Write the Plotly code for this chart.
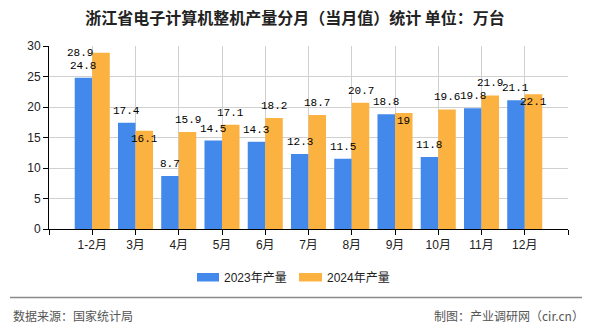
import plotly.graph_objects as go

categories = ["1-2月", "3月", "4月", "5月", "6月", "7月", "8月", "9月", "10月", "11月", "12月"]
values_2023 = [24.8, 17.4, 8.7, 14.5, 14.3, 12.3, 11.5, 18.8, 11.8, 19.8, 21.1]
values_2024 = [28.9, 16.1, 15.9, 17.1, 18.2, 18.7, 20.7, 19, 19.6, 21.9, 22.1]
series_names = ["2023年产量", "2024年产量"]
y_ticks = [0, 5, 10, 15, 20, 25, 30]

# label placement styles (pixel shifts, mimicking overlap avoidance in the original)
label_dx_2024 = [-21, 0, 0, 0, 0, 0, 0, 0, 0, 0, 0]
label_dy_2024 = [0, -8, 12, 12, 12, 12, 12, -8, 12, 12, -8]

BLUE = "#4389EC"
ORANGE = "#FCB241"
W, H = 590, 330
L, R, T, B = 49, 568, 46, 229

xs = list(range(1, len(categories) + 1))

fig = go.Figure()
fig.add_trace(go.Bar(x=xs, y=values_2023, name=series_names[0], marker=dict(color=BLUE, line=dict(width=0))))
fig.add_trace(go.Bar(x=xs, y=values_2024, name=series_names[1], marker=dict(color=ORANGE, line=dict(width=0))))

label_font = dict(family="Liberation Mono, DejaVu Sans Mono, monospace", size=11, color="#000")
half = (R - L) / (len(categories) + 1) * 0.81 / 4
for i, (a, b) in enumerate(zip(values_2023, values_2024)):
    fig.add_annotation(x=xs[i], y=a, text=f"{a:g}", showarrow=False, xshift=-half, yshift=12,
                       yanchor="middle", xanchor="center", font=label_font)
for i, b in enumerate(values_2024):
    fig.add_annotation(x=xs[i], y=b, text=f"{b:g}", showarrow=False, xshift=half + label_dx_2024[i],
                       yshift=label_dy_2024[i], yanchor="middle", xanchor="center", font=label_font)

def px_x(p):
    return (p - L) / (R - L)

def px_y(p):
    return (B - p) / (B - T)

# manual legend
leg_font = dict(family="Liberation Sans, Noto Sans CJK SC, sans-serif", size=12, color="#222")
for (x0, x1, col, name) in [(197, 219, BLUE, series_names[0]), (299, 322, ORANGE, series_names[1])]:
    fig.add_shape(type="rect", xref="paper", yref="paper", x0=px_x(x0), x1=px_x(x1),
                  y0=px_y(281.5), y1=px_y(273), fillcolor=col, line=dict(width=0))
    fig.add_annotation(xref="paper", yref="paper", x=px_x(x1 + 3), y=px_y(277.5), text=name,
                       showarrow=False, xanchor="left", yanchor="middle", font=leg_font)

# footer
fig.add_shape(type="line", xref="paper", yref="paper", x0=px_x(10), x1=px_x(582),
              y0=px_y(297.5), y1=px_y(297.5), line=dict(color="#8a8a8a", width=1.5))
foot_font = dict(family="Noto Sans CJK SC, sans-serif", size=12, color="#555")
fig.add_annotation(xref="paper", yref="paper", x=px_x(11), y=px_y(315), text="数据来源：国家统计局",
                   showarrow=False, xanchor="left", yanchor="middle", font=foot_font)
fig.add_annotation(xref="paper", yref="paper", x=px_x(586), y=px_y(315), text="制图：产业调研网（cir.cn）",
                   showarrow=False, xanchor="right", yanchor="middle", font=foot_font)

fig.update_layout(
    width=W, height=H,
    margin=dict(l=L, r=W - R, t=T, b=H - B, pad=0),
    paper_bgcolor="white", plot_bgcolor="white",
    showlegend=False,
    barmode="group", bargap=0.19, bargroupgap=0,
    title=dict(text="<b>浙江省电子计算机整机产量分月（当月值）统计 单位：万台</b>",
               x=0.5, xref="container", xanchor="center",
               y=1 - 18 / H, yref="container", yanchor="middle",
               font=dict(family="Noto Sans CJK SC, sans-serif", size=16, color="#222")),
    font=dict(family="Liberation Sans, Noto Sans CJK SC, sans-serif", size=12, color="#222"),
)

fig.update_xaxes(
    range=[0, len(categories) + 1],
    tickvals=[0] + xs + [len(categories) + 1],
    ticktext=[""] + categories + [""],
    showgrid=True, gridcolor="#d0d0d0", gridwidth=1,
    showline=True, linecolor="#000", linewidth=1,
    ticks="outside", ticklen=5, tickcolor="#000",
    tickfont=dict(family="Liberation Sans, Noto Sans CJK SC, sans-serif", size=12, color="#222"),
    zeroline=False, fixedrange=True,
)
fig.update_yaxes(
    range=[0, 30],
    tickvals=y_ticks,
    showgrid=True, gridcolor="#d0d0d0", gridwidth=1,
    showline=True, linecolor="#000", linewidth=1,
    ticks="outside", ticklen=5, tickcolor="#000",
    tickfont=dict(family="Liberation Sans, sans-serif", size=12, color="#222"),
    zeroline=False, fixedrange=True,
)

fig.write_html("out.html", config={"displayModeBar": False})
